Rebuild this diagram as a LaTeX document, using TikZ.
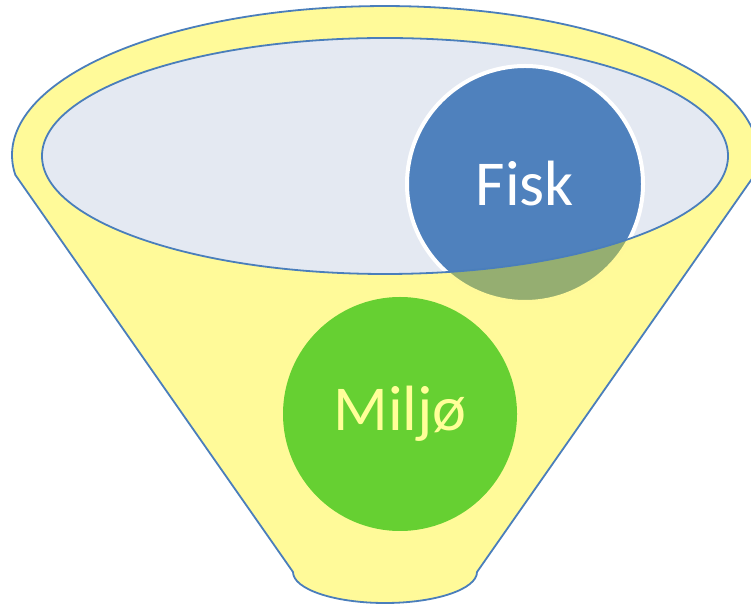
\documentclass[tikz,border=0pt]{standalone}
\usepackage{fontspec}
\setmainfont{Carlito}
\definecolor{rimblue}{RGB}{74,126,187}
\definecolor{fiskblue}{RGB}{79,129,189}
\definecolor{mouthgray}{RGB}{228,233,242}
\definecolor{miljogreen}{RGB}{102,208,50}
\definecolor{textyellow}{RGB}{255,255,153}
\tikzset{
  bubble/.style={circle, inner sep=0pt, font=\fontsize{64}{64}\selectfont},
}
\begin{document}
\begin{tikzpicture}[x=1pt,y=1pt]
        % Page size
        \useasboundingbox (0,0) rectangle (751,607);
        \clip (0,0) rectangle (751,607);

        % Drawing the mouth of the funnel
        \fill[mouthgray] (385,451) ellipse [x radius=343, y radius=118];

        % The fish circle, partly behind the funnel
        \node[bubble, fill=fiskblue, draw=white, line width=4pt, minimum size=236pt, text=white] (fisk) at (525,423) {Fisk};

        % Drawing the funnel body with a hole for the mouth
        \filldraw[even odd rule, fill=yellow, fill opacity=0.4, draw=rimblue, line width=1.8pt, line join=round]
          (15.4,432) -- (293,35) arc[start angle=180, end angle=360, x radius=92, y radius=31]
          -- (754.6,432) arc[start angle=-7.7, end angle=187.7, x radius=373, y radius=149] -- cycle
          (385,451) ellipse [x radius=343, y radius=118];

        % The environment circle
        \node[bubble, fill=miljogreen, minimum size=234pt, text=textyellow] (miljo) at (400,193) {Miljø};

    \end{tikzpicture}
\end{document}
